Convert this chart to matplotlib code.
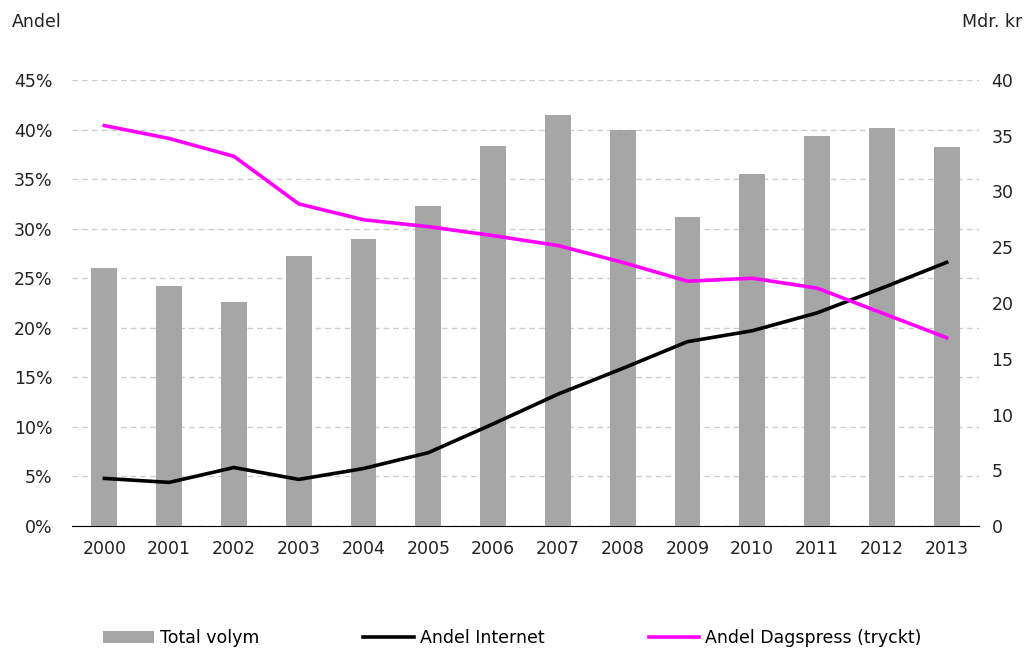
import numpy as np
import matplotlib.pyplot as plt

years = ["2000", "2001", "2002", "2003", "2004", "2005", "2006",
         "2007", "2008", "2009", "2010", "2011", "2012", "2013"]
total_volym = [23.1, 21.5, 20.1, 24.2, 25.7, 28.7, 34.1,
               36.9, 35.5, 27.7, 31.6, 35.0, 35.7, 34.0]
andel_internet = [4.8, 4.4, 5.9, 4.7, 5.8, 7.4, 10.3,
                  13.3, 15.9, 18.6, 19.7, 21.5, 24.0, 26.6]
andel_dagspress = [40.4, 39.1, 37.3, 32.5, 30.9, 30.2, 29.3,
                   28.3, 26.6, 24.7, 25.0, 24.0, 21.5, 19.0]

plt.rcParams['font.family'] = ['DejaVu Sans']
plt.rcParams['font.size'] = 12.5

fig = plt.figure(figsize=(10.27, 6.5), dpi=100)
ax = fig.add_axes([72/1027, 1 - 526/650, (979 - 72)/1027, (526 - 80)/650])
x = np.arange(len(years))

# percent axis: gridlines and left labels
ax.set_xlim(-0.5, len(years) - 0.5)
ax.set_ylim(0, 45)
ax.set_yticks(np.arange(0, 46, 5))
ax.set_yticklabels([f"{v}%" for v in range(0, 46, 5)])
ax.yaxis.grid(True, color="#cccccc", linestyle=(0, (4, 3)), linewidth=1)
ax.set_axisbelow(True)
ax.tick_params(axis="y", length=0, pad=14, colors="#222222")
ax.set_xticks(x)
ax.set_xticklabels(years)
ax.tick_params(axis="x", length=0, pad=10, colors="#222222")
for s in ["top", "right", "left"]:
    ax.spines[s].set_visible(False)
ax.spines["bottom"].set_color("black")
ax.spines["bottom"].set_zorder(5)

# bars on the Mdr. kr axis
axb = ax.twinx()
bars = axb.bar(x, total_volym, width=0.4, color="#a6a6a6", label="Total volym")
axb.set_ylim(0, 40)
axb.set_yticks(np.arange(0, 41, 5))
axb.tick_params(axis="y", length=0, pad=9, colors="#222222")
for s in axb.spines.values():
    s.set_visible(False)

# lines on top, same scale as the percent axis
axl = ax.twinx()
axl.set_ylim(0, 45)
axl.set_yticks([])
for s in axl.spines.values():
    s.set_visible(False)
l1, = axl.plot(x, andel_internet, color="black", linewidth=2.6, label="Andel Internet")
l2, = axl.plot(x, andel_dagspress, color="#ff00ff", linewidth=2.6, label="Andel Dagspress (tryckt)")

fig.text(12/1027, 1 - 22/650, "Andel", ha="left", va="center", color="#222222")
fig.text(1022/1027, 1 - 22/650, "Mdr. kr", ha="right", va="center", color="#222222")

fig.legend(handles=[bars, l1, l2], loc="center", ncol=3,
           bbox_to_anchor=(0.499, 1 - 638/650), frameon=False,
           handlelength=2.9, handletextpad=0.35, columnspacing=6.0,
           handleheight=0.7)

fig.savefig("out.png", dpi=100)
